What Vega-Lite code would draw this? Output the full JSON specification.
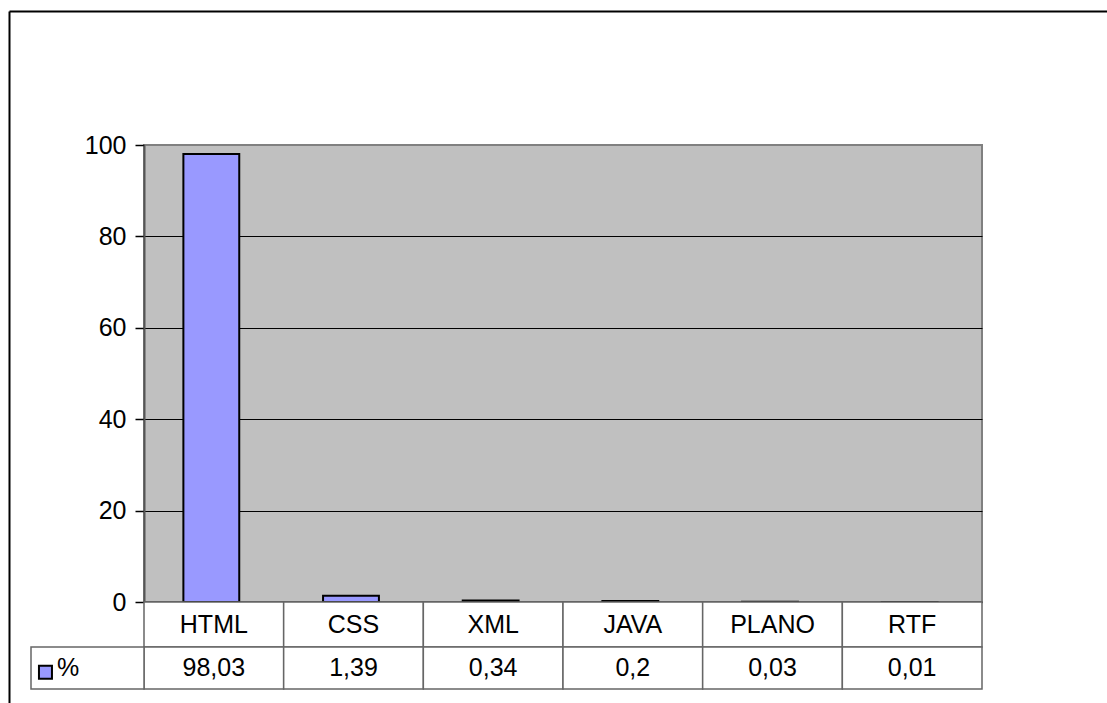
{
  "$schema": "https://vega.github.io/schema/vega-lite/v6.json",
  "width": 838,
  "height": 457,
  "autosize": {"type": "none"},
  "padding": {"left": 144, "top": 145, "right": 125, "bottom": 101},
  "background": "white",
  "config": {
    "font": "Liberation Sans",
    "view": {"fill": "#C0C0C0", "stroke": "#808080", "strokeWidth": 2},
    "locale": {"number": {"decimal": ",", "thousands": ".", "grouping": [3], "currency": ["", " €"]}},
    "axis": {"labelFont": "Liberation Sans", "labelColor": "black"},
    "text": {"font": "Liberation Sans", "fontSize": 25, "color": "black"}
  },
  "datasets": {
    "files": [
      {"cat": "HTML", "val": 98.03},
      {"cat": "CSS", "val": 1.39},
      {"cat": "XML", "val": 0.34},
      {"cat": "JAVA", "val": 0.2},
      {"cat": "PLANO", "val": 0.03},
      {"cat": "RTF", "val": 0.01}
    ],
    "series": [{"series": "%"}],
    "frame": [{"frame": "chart area"}]
  },
  "data": {"name": "files"},
  "layer": [
    {
      "data": {"name": "frame"},
      "mark": {"type": "point", "opacity": 0},
      "encoding": {
        "x": {"field": "frame", "type": "nominal", "scale": {"type": "point", "range": [-135, 1000]},
              "axis": {"orient": "top", "offset": 134, "title": null, "labels": false, "ticks": false, "grid": false, "domainColor": "black", "domainWidth": 2}},
        "y": {"field": "frame", "type": "nominal", "scale": {"type": "point", "range": [-134, 600]},
              "axis": {"orient": "left", "offset": 135, "title": null, "labels": false, "ticks": false, "grid": false, "domainColor": "black", "domainWidth": 2}}
      }
    },
    {
      "mark": {"type": "bar", "fill": "#9999FF", "stroke": "black", "strokeWidth": 2},
      "encoding": {
        "x": {"field": "cat", "type": "nominal", "sort": null,
              "scale": {"paddingInner": 0.6, "paddingOuter": 0.3, "align": 0.47},
              "axis": {"orient": "bottom", "title": null, "labels": false, "ticks": false, "grid": false, "domainColor": "black", "domainWidth": 1.5}},
        "y": {"field": "val", "type": "quantitative", "scale": {"domain": [0, 100], "nice": false},
              "axis": {"orient": "left", "title": null, "values": [0, 20, 40, 60, 80, 100], "grid": true, "gridColor": "black", "gridWidth": 1,
                       "gridOpacity": {"condition": {"test": "datum.value >= 100 || datum.value <= 0", "value": 0}, "value": 1},
                       "tickColor": "black", "tickSize": 9, "tickWidth": 1.5, "labelFontSize": 25, "labelPadding": 9, "labelFlush": false,
                       "domainColor": "#555555", "domainWidth": 2}}
      }
    },
    {
      "mark": {"type": "rect", "fill": "white", "stroke": "#666666", "strokeWidth": 1.5},
      "encoding": {
        "x": {"field": "cat", "type": "nominal", "sort": null, "scale": {"type": "band", "paddingInner": 0, "paddingOuter": 0}, "axis": null},
        "y": {"datum": "categories", "type": "nominal", "scale": {"type": "band", "range": [457, 502], "paddingInner": 0, "paddingOuter": 0}, "axis": null}
      }
    },
    {
      "mark": {"type": "rect", "fill": "white", "stroke": "#666666", "strokeWidth": 1.5},
      "encoding": {
        "x": {"field": "cat", "type": "nominal", "sort": null, "scale": {"type": "band", "paddingInner": 0, "paddingOuter": 0}, "axis": null},
        "y": {"datum": "values", "type": "nominal", "scale": {"type": "band", "range": [502, 544], "paddingInner": 0, "paddingOuter": 0}, "axis": null}
      }
    },
    {
      "mark": {"type": "text", "align": "center", "baseline": "middle", "fontSize": 25},
      "encoding": {
        "text": {"field": "cat", "type": "nominal"},
        "x": {"field": "cat", "type": "nominal", "sort": null, "bandPosition": 0.5, "scale": {"type": "band", "paddingInner": 0, "paddingOuter": 0}, "axis": null},
        "y": {"datum": "categories", "type": "nominal", "bandPosition": 0.5, "scale": {"type": "band", "range": [457, 502], "paddingInner": 0, "paddingOuter": 0}, "axis": null}
      }
    },
    {
      "mark": {"type": "text", "align": "center", "baseline": "middle", "fontSize": 25},
      "encoding": {
        "text": {"field": "val", "type": "quantitative", "format": ""},
        "x": {"field": "cat", "type": "nominal", "sort": null, "bandPosition": 0.5, "scale": {"type": "band", "paddingInner": 0, "paddingOuter": 0}, "axis": null},
        "y": {"datum": "values", "type": "nominal", "bandPosition": 0.5, "scale": {"type": "band", "range": [502, 544], "paddingInner": 0, "paddingOuter": 0}, "axis": null}
      }
    },
    {
      "data": {"name": "series"},
      "mark": {"type": "rect", "fill": "white", "stroke": "#666666", "strokeWidth": 1.5},
      "encoding": {
        "x": {"field": "series", "type": "nominal", "scale": {"type": "band", "range": [-113, 0], "paddingInner": 0, "paddingOuter": 0}, "axis": null},
        "y": {"datum": "values", "type": "nominal", "scale": {"type": "band", "range": [502, 544], "paddingInner": 0, "paddingOuter": 0}, "axis": null}
      }
    },
    {
      "data": {"name": "series"},
      "mark": {"type": "point", "shape": "square", "filled": true, "fill": "#9999FF", "stroke": "black", "strokeWidth": 2, "size": 169, "opacity": 1},
      "encoding": {
        "x": {"field": "series", "type": "nominal", "bandPosition": 0.128, "scale": {"type": "band", "range": [-113, 0], "paddingInner": 0, "paddingOuter": 0}, "axis": null},
        "y": {"datum": "values", "type": "nominal", "bandPosition": 0.6, "scale": {"type": "band", "range": [502, 544], "paddingInner": 0, "paddingOuter": 0}, "axis": null}
      }
    },
    {
      "data": {"name": "series"},
      "mark": {"type": "text", "align": "left", "baseline": "middle", "fontSize": 25},
      "encoding": {
        "text": {"field": "series", "type": "nominal"},
        "x": {"field": "series", "type": "nominal", "bandPosition": 0.23, "scale": {"type": "band", "range": [-113, 0], "paddingInner": 0, "paddingOuter": 0}, "axis": null},
        "y": {"datum": "values", "type": "nominal", "bandPosition": 0.5, "scale": {"type": "band", "range": [502, 544], "paddingInner": 0, "paddingOuter": 0}, "axis": null}
      }
    }
  ],
  "resolve": {"scale": {"x": "independent", "y": "independent"}, "axis": {"x": "independent", "y": "independent"}}
}
